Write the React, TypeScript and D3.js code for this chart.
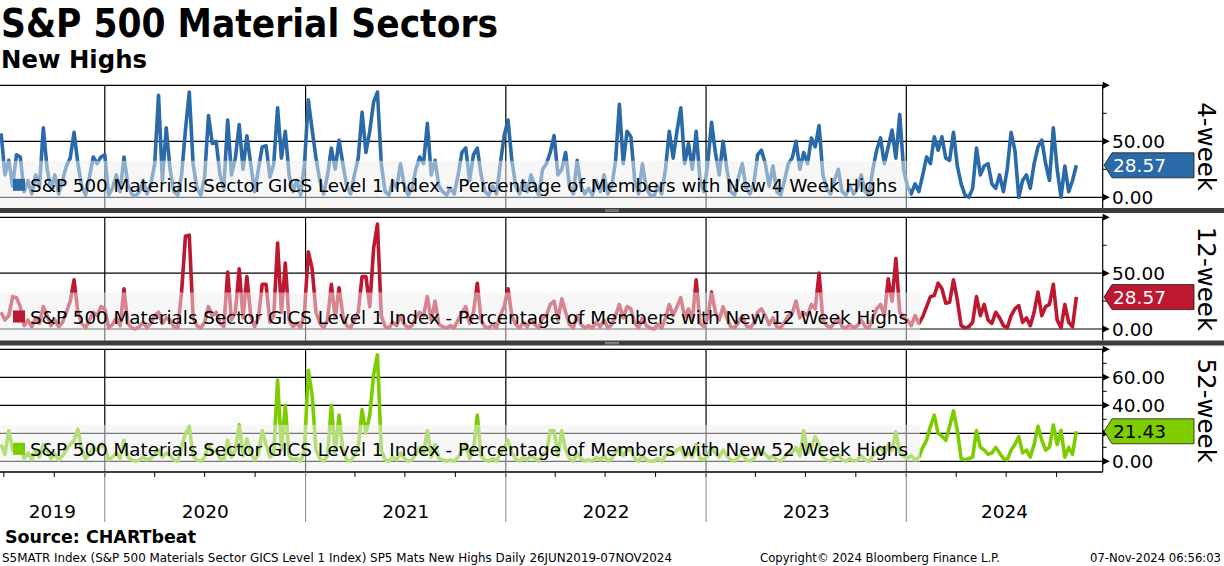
import React, { useEffect } from "react";
import * as d3 from "d3";

// weekly readings, first one 26 Jun 2019, last one 07 Nov 2024
const firstDate = new Date(2019, 5, 26);

const newHigh4w = [
  57, 20, 33, 10, 38, 36, 5, 15, 3, 20,
  10, 62, 25, 8, 20, 3, 15, 28, 35, 58,
  30, 10, 2, 18, 36, 30, 36, 38, 2, 8,
  20, 5, 36, 12, 3, 1, 5, 15, 3, 12,
  30, 91, 15, 62, 25, 5, 2, 20, 60, 94,
  30, 8, 2, 18, 73, 48, 50, 20, 8, 69,
  20, 35, 65, 25, 55, 30, 5, 25, 45, 46,
  18, 30, 80, 35, 59, 20, 5, 15, 2, 30,
  87, 60, 35, 15, 3, 20, 44, 25, 51, 30,
  10, 3, 20, 35, 76, 40, 59, 85, 94, 30,
  5, 2, 15, 8, 30, 10, 2, 8, 25, 36,
  30, 66, 20, 33, 10, 5, 2, 8, 3, 20,
  40, 44, 15, 38, 44, 20, 5, 2, 10, 3,
  30, 55, 69, 33, 10, 3, 15, 5, 20, 10,
  2, 25, 30, 40, 55, 20, 25, 40, 10, 3,
  33, 10, 3, 8, 2, 15, 5, 20, 3, 10,
  32, 83, 30, 59, 54, 15, 3, 30, 8, 2,
  1, 10, 3, 25, 59, 35, 59, 80, 30, 48,
  25, 59, 15, 5, 30, 67, 40, 20, 50, 25,
  5, 2, 18, 30, 8, 3, 12, 38, 42, 30,
  10, 28, 5, 2, 15, 30, 35, 50, 25, 40,
  30, 53, 45, 64, 20, 8, 3, 15, 25, 5,
  2, 10, 3, 8, 20, 5, 2, 25, 42, 53,
  30, 45, 60, 35, 74, 25, 10, 3, 12, 5,
  20, 36, 30, 54, 42, 54, 35, 33, 58, 28,
  12, 2, 0, 8, 44, 20, 28, 30, 12, 8,
  20, 5, 25, 58, 42, 0, 15, 20, 8, 30,
  45, 51, 30, 15, 62, 25, 0, 28, 5, 15,
  28.57,
];

const newHigh12w = [
  15, 8, 12, 29, 28, 20, 3, 8, 2, 10,
  5, 20, 12, 3, 8, 2, 6, 15, 25, 44,
  15, 5, 1, 8, 15, 12, 20, 18, 1, 4,
  10, 3, 36, 5, 1, 0, 2, 6, 1, 5,
  12, 15, 5, 10, 8, 2, 1, 33, 83, 84,
  10, 3, 1, 6, 20, 12, 15, 5, 2, 51,
  8, 15, 54, 10, 47, 12, 2, 10, 40, 40,
  6, 12, 77, 15, 59, 8, 2, 5, 1, 15,
  69, 54, 15, 5, 1, 8, 40, 10, 37, 12,
  3, 1, 8, 15, 47, 47, 20, 72, 94, 12,
  2, 1, 6, 3, 12, 4, 1, 3, 10, 15,
  12, 29, 8, 25, 4, 2, 1, 3, 1, 8,
  15, 20, 5, 15, 41, 8, 2, 1, 4, 1,
  12, 20, 36, 12, 4, 1, 6, 2, 8, 4,
  1, 10, 12, 22, 25, 8, 27, 15, 4, 1,
  12, 4, 1, 3, 1, 6, 2, 8, 1, 4,
  12, 22, 10, 20, 18, 5, 1, 10, 3, 1,
  0, 4, 1, 10, 22, 12, 20, 28, 10, 18,
  8, 44, 5, 2, 10, 33, 15, 8, 20, 10,
  2, 1, 6, 12, 3, 1, 5, 15, 18, 12,
  4, 10, 2, 1, 6, 12, 14, 25, 10, 15,
  12, 22, 18, 50, 8, 3, 1, 6, 10, 2,
  1, 4, 1, 3, 8, 2, 1, 10, 18, 22,
  12, 45, 25, 63, 15, 10, 8, 3, 12, 5,
  11, 20, 29, 30, 41, 36, 23, 24, 44, 26,
  3, 1, 2, 6, 29, 12, 22, 8, 5, 15,
  10, 3, 1, 12, 18, 21, 6, 10, 3, 15,
  33, 12, 20, 22, 40, 8, 1, 22, 6, 2,
  28.57,
];

const newHigh52w = [
  12, 5, 22, 8, 10, 12, 2, 6, 1, 8,
  3, 12, 8, 2, 5, 1, 4, 8, 12, 15,
  23, 8, 2, 5, 10, 8, 12, 10, 1, 3,
  6, 2, 15, 3, 1, 0, 1, 3, 1, 2,
  5, 8, 3, 6, 4, 1, 0, 10, 20, 25,
  4, 1, 0, 3, 12, 6, 8, 2, 1, 15,
  3, 8, 26, 4, 16, 6, 1, 5, 22, 12,
  3, 6, 58, 8, 40, 4, 1, 2, 0, 8,
  65, 47, 8, 2, 0, 4, 40, 6, 33, 8,
  1, 0, 4, 10, 37, 20, 33, 62, 76, 8,
  1, 0, 3, 1, 6, 2, 0, 1, 5, 10,
  6, 22, 3, 12, 2, 1, 0, 1, 0, 3,
  8, 12, 2, 8, 33, 4, 1, 0, 2, 0,
  6, 10, 15, 6, 2, 0, 3, 1, 4, 2,
  0, 5, 6, 22, 22, 4, 22, 8, 2, 0,
  6, 2, 0, 1, 0, 3, 1, 4, 0, 2,
  6, 10, 4, 8, 8, 2, 0, 4, 1, 0,
  0, 2, 0, 4, 8, 5, 8, 10, 3, 6,
  3, 12, 2, 1, 4, 10, 6, 3, 8, 4,
  1, 0, 3, 6, 1, 0, 2, 6, 8, 5,
  2, 4, 1, 0, 3, 6, 6, 10, 4, 22,
  6, 10, 17.6, 12, 3, 1, 0, 3, 5, 1,
  0, 2, 0, 1, 4, 1, 0, 4, 8, 10,
  5, 12, 8, 21, 6, 4, 2, 4, 1, 3,
  10, 15, 25, 33, 20, 18, 15, 25, 36, 22,
  2, 1, 2, 3, 22, 10, 8, 5, 6, 10,
  6, 2, 1, 8, 12, 17.6, 6, 8, 3, 12,
  25, 15, 8, 10, 26, 12, 22, 3, 10, 5,
  21.43,
];

const lastLabels = ["28.57", "28.57", "21.43"];
const panelTitles = ["4-week", "12-week", "52-week"];
const legendNames = [
  "S&P 500 Materials Sector GICS Level 1 Index - Percentage of Members with New 4 Week Highs",
  "S&P 500 Materials Sector GICS Level 1 Index - Percentage of Members with New 12 Week Highs",
  "S&P 500 Materials Sector GICS Level 1 Index - Percentage of Members with New 52 Week Highs",
];
const axisMax = [100, 100, 80];
const majorTicks = [[0, 50, 100], [0, 50, 100], [0, 20, 40, 60, 80]];
const tickLabels = [[0, 50], [0, 50], [0, 40, 60]];
const minorTicks = [[25, 75], [25, 75], [10, 30, 50, 70]];

const W = 1224;
const H = 566;
const font = "'DejaVu Sans', Verdana, sans-serif";
const plotRight = 1102.7;

const x = d3
  .scaleTime()
  .domain([new Date(2019, 5, 24), new Date(2024, 11, 24)])
  .range([0, plotRight]);

const dates = newHigh4w.map((_, i) => d3.timeDay.offset(firstDate, 7 * i));

const panels = [
  { values: newHigh4w, color: "#2a6aa8", tagText: "#fff", top: 85.3, zero: 197.3, bottom: 208, boxRight: 910, legendLen: 867 },
  { values: newHigh12w, color: "#be1730", tagText: "#fff", top: 217.3, zero: 329, bottom: 340.5, boxRight: 920, legendLen: 878 },
  { values: newHigh52w, color: "#7dcc00", tagText: "#000", top: 349.3, zero: 461.3, bottom: 472, boxRight: 920, legendLen: 878 },
];

const Panel = ({ p, k }: { p: any; k: number }) => {
  const y = d3.scaleLinear().domain([0, axisMax[k]]).range([p.zero, p.top]);
  const line = d3
    .line<number>()
    .x((_, i) => x(dates[i]))
    .y((d) => y(d));
  const years = x.ticks(d3.timeYear.every(1)).filter((d) => x(d) > 1);
  const last = p.values[p.values.length - 1];
  const ty = y(last);
  return (
    <g>
      {years.map((d, i) => (
        <line key={i} x1={x(d)} x2={x(d)} y1={p.top} y2={p.bottom} stroke="#000" strokeWidth={1.2} />
      ))}
      {majorTicks[k].map((t) => (
        <line key={t} x1={0} x2={plotRight} y1={y(t)} y2={y(t)} stroke="#000" strokeWidth={1.2} />
      ))}
      <path d={line(p.values) || ""} fill="none" stroke={p.color} strokeWidth={3.6} strokeLinejoin="round" />
      <rect x={0} y={p.zero - 36.5} width={p.boxRight} height={p.bottom - (p.zero - 36.5)} fill="rgb(240,240,240)" fillOpacity={0.5} />
      <rect x={13} y={p.zero - 18.5} width={12} height={12} fill={p.color} />
      <text x={30} y={p.zero - 5.5} fontFamily={font} fontSize={17.5} fill="#000" textLength={p.legendLen} lengthAdjust="spacingAndGlyphs">
        {legendNames[k]}
      </text>
      <line x1={plotRight} x2={plotRight} y1={p.top} y2={p.bottom} stroke="#000" strokeWidth={1.2} />
      {majorTicks[k].map((t) => (
        <path key={t} d={`M${plotRight},${y(t) - 3.5}L${plotRight + 7},${y(t)}L${plotRight},${y(t) + 3.5}Z`} fill="#000" />
      ))}
      {minorTicks[k].map((t) => (
        <line key={t} x1={plotRight} x2={plotRight + 4} y1={y(t)} y2={y(t)} stroke="#000" strokeWidth={1} />
      ))}
      {tickLabels[k].map((t) => (
        <text key={t} x={1112} y={y(t)} dy="0.36em" fontFamily={font} fontSize={18.5} fill="#000">
          {d3.format(".2f")(t)}
        </text>
      ))}
      <path
        d={`M1104,${ty}L1112,${ty - 12.5}L1194,${ty - 12.5}L1194,${ty + 12.5}L1112,${ty + 12.5}Z`}
        fill={p.color}
        stroke="#1a1a1a"
        strokeWidth={0.8}
      />
      <text x={1113} y={ty} dy="0.36em" fontFamily={font} fontSize={18.5} fill={p.tagText}>
        {lastLabels[k]}
      </text>
      <text
        transform={`translate(1198,${(p.top + p.bottom) / 2}) rotate(90)`}
        textAnchor="middle"
        fontFamily={font}
        fontSize={24.5}
        fill="#000"
      >
        {panelTitles[k]}
      </text>
    </g>
  );
};

const App = () => {
  useEffect(() => {
    document.body.style.margin = "0";
  }, []);
  const yearStarts = x.ticks(d3.timeYear.every(1)).filter((d) => x(d) > 1);
  const quarters = x.ticks(d3.timeMonth.every(3));
  const yearEdges = [0, ...yearStarts.map((d) => x(d)), plotRight];
  const yearNames = ["2019", ...yearStarts.map((d) => d3.timeFormat("%Y")(d))];
  return (
    <svg width={W} height={H} style={{ display: "block", position: "absolute", left: 0, top: 0, background: "#fff" }}>
      <rect width={W} height={H} fill="#fff" />
      <text x={1} y={37} fontFamily={font} fontWeight="bold" fontSize={39} textLength={497} lengthAdjust="spacingAndGlyphs">
        {"S&P 500 Material Sectors"}
      </text>
      <text x={1} y={68} fontFamily={font} fontWeight="bold" fontSize={25} textLength={146} lengthAdjust="spacingAndGlyphs">
        New Highs
      </text>
      {panels.map((p, k) => (
        <Panel key={k} p={p} k={k} />
      ))}
      <rect x={0} y={208} width={W} height={5} fill="#3c3c3c" />
      <rect x={0} y={340.5} width={W} height={5} fill="#3c3c3c" />
      {[208, 340.5].map((t) => (
        <g key={t}>
          <line x1={605} x2={619} y1={t + 1.8} y2={t + 1.8} stroke="#aaa" strokeWidth={0.8} />
          <line x1={605} x2={619} y1={t + 3.3} y2={t + 3.3} stroke="#aaa" strokeWidth={0.8} />
        </g>
      ))}
      <line x1={0} x2={plotRight} y1={472} y2={472} stroke="#000" strokeWidth={1.5} />
      {quarters.map((d, i) => (
        <line key={i} x1={x(d)} x2={x(d)} y1={472} y2={477} stroke="#000" strokeWidth={1} />
      ))}
      {yearStarts.map((d, i) => (
        <line key={i} x1={x(d)} x2={x(d)} y1={472} y2={522} stroke="#888" strokeWidth={1} />
      ))}
      {yearNames.map((n, i) => (
        <text key={n} x={(yearEdges[i] + yearEdges[i + 1]) / 2} y={518} textAnchor="middle" fontFamily={font} fontSize={18.5} fill="#000">
          {n}
        </text>
      ))}
      <text x={5} y={543} fontFamily={font} fontWeight="bold" fontSize={17} textLength={191} lengthAdjust="spacingAndGlyphs">
        Source: CHARTbeat
      </text>
      <text x={2} y={562} fontFamily={font} fontSize={12} textLength={670} lengthAdjust="spacingAndGlyphs">
        {"S5MATR Index (S&P 500 Materials Sector GICS Level 1 Index) SP5 Mats New Highs  Daily 26JUN2019-07NOV2024"}
      </text>
      <text x={760} y={562} fontFamily={font} fontSize={12} textLength={240} lengthAdjust="spacingAndGlyphs">
        Copyright© 2024 Bloomberg Finance L.P.
      </text>
      <text x={1090} y={562} fontFamily={font} fontSize={12} textLength={131} lengthAdjust="spacingAndGlyphs">
        07-Nov-2024 06:56:03
      </text>
    </svg>
  );
};

export default App;
